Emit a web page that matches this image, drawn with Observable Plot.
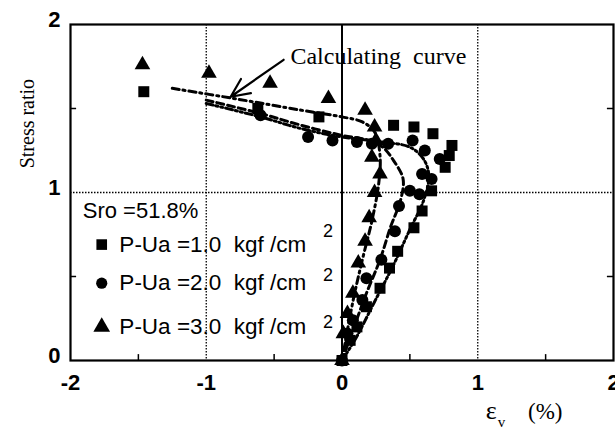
<!DOCTYPE html>
<html><head><meta charset="utf-8">
<script src="https://cdn.jsdelivr.net/npm/d3@7"></script>
<script src="https://cdn.jsdelivr.net/npm/@observablehq/plot@0.6"></script>
<style>
body{margin:0;background:#fff}
svg text{white-space:pre}
</style>
</head><body><div id="chart"></div>
<script>
// ---- axes ----
const xTicks = [-2, -1, 0, 1, 2];
const yTicks = [0, 1, 2];
const xMinor = [-1.5, -0.5, 0.5, 1.5];
const yMinor = [0.5, 1.5];
const xGrid = [-1, 1];
const yGrid = [1];
const xLabel = "(%)";
const yLabel = "Stress ratio";

// ---- series (P-Ua = 1.0, 2.0, 3.0 kgf/cm2) ----
const seriesNames = ["1.0", "2.0", "3.0"];
const seriesSymbols = ["square", "circle", "triangle"];

const sqX = [0, 0.06, 0.11, 0.18, 0.28, 0.35, 0.41, 0.53, 0.59, 0.66, 0.76, 0.79, 0.81, 0.67, 0.53, 0.38, -0.17, -0.62, -1.46];
const sqY = [0, 0.12, 0.20, 0.32, 0.43, 0.55, 0.65, 0.79, 0.89, 1.01, 1.15, 1.22, 1.28, 1.35, 1.39, 1.40, 1.45, 1.50, 1.60];

const ciX = [0, 0.04, 0.08, 0.15, 0.18, 0.29, 0.39, 0.42, 0.50, 0.57, 0.59, 0.66, 0.72, 0.61, 0.52, 0.34, 0.22, 0.11, -0.07, -0.25, -0.60];
const ciY = [0, 0.16, 0.24, 0.36, 0.49, 0.60, 0.77, 0.92, 1.01, 0.99, 1.11, 1.08, 1.20, 1.25, 1.31, 1.29, 1.29, 1.30, 1.31, 1.33, 1.46];

const trX = [0, 0.01, 0.04, 0.08, 0.12, 0.17, 0.20, 0.24, 0.28, 0.22, 0.25, 0.24, 0.17, -0.10, -0.53, -0.98, -1.47];
const trY = [0, 0.16, 0.28, 0.40, 0.58, 0.71, 0.85, 1.00, 1.11, 1.21, 1.31, 1.39, 1.49, 1.56, 1.65, 1.71, 1.76];

// ---- calculating curves ----
const calc1X = [-1.0, -0.6, -0.3, 0.0, 0.3, 0.5, 0.6, 0.64, 0.60, 0.50, 0.38, 0.24, 0.10, 0];
const calc1Y = [1.53, 1.45, 1.38, 1.33, 1.30, 1.27, 1.20, 1.10, 0.95, 0.78, 0.57, 0.35, 0.13, 0];
const calc2X = [-1.0, -0.6, -0.3, 0.0, 0.2, 0.3, 0.38, 0.45, 0.43, 0.36, 0.28, 0.18, 0.08, 0];
const calc2Y = [1.55, 1.47, 1.40, 1.34, 1.31, 1.27, 1.19, 1.08, 0.95, 0.80, 0.60, 0.40, 0.18, 0];
const calc3X = [-1.25, -0.8, -0.3, 0.0, 0.15, 0.24, 0.28, 0.27, 0.22, 0.15, 0.08, 0];
const calc3Y = [1.62, 1.56, 1.49, 1.45, 1.42, 1.36, 1.22, 1.05, 0.83, 0.60, 0.35, 0];
const calcDash = ["7,3,2,3,2,3", "7,4", "7,4,2,4"];

// ---- annotation / legend ----
const noteText = "Calculating  curve";
const noteAt = [-0.38, 1.81];
const arrowFrom = [-0.43, 1.79];
const arrowTo = [-0.82, 1.57];
const sroText = "Sro =51.8%";
const sroAt = [-1.91, 0.89];
const legendLabels = ["P-Ua =1.0  kgf /cm", "P-Ua =2.0  kgf /cm", "P-Ua =3.0  kgf /cm"];
const legendMarkX = -1.77;
const legendTextX = -1.64;
const legendY = [0.69, 0.46, 0.20];
const supX = -0.14;
const supY = [0.77, 0.51, 0.23];

// build tables
const mk = (xs, ys, s) => xs.map((x, i) => ({x, y: ys[i], s}));
const seriesData = [mk(sqX, sqY, seriesNames[0]), mk(ciX, ciY, seriesNames[1]), mk(trX, trY, seriesNames[2])];
const curves = [mk(calc1X, calc1Y, 0), mk(calc2X, calc2Y, 1), mk(calc3X, calc3Y, 2)];
const legend = seriesNames.map((s, i) => ({s, label: legendLabels[i], y: legendY[i], sy: supY[i]}));

const dotR = [6.2, 6, 5.8];
const legendR = [6, 5.6, 6.2];
const TICK = 0.035, TICKX = 0.045;
const serif = "'Liberation Serif', 'DejaVu Serif', serif";
const sans = "'Liberation Sans', Arial, sans-serif";

const marks = [
  Plot.ruleX(xGrid, {strokeDasharray: "1.5,1.5", strokeWidth: 1.3}),
  Plot.ruleY(yGrid, {strokeDasharray: "1.5,1.5", strokeWidth: 1.3}),
  Plot.ruleX([0], {strokeWidth: 2}),
  Plot.ruleX(xMinor, {x: d => d, y1: 0, y2: TICK, strokeWidth: 1.5}),
  Plot.ruleY(yMinor, {y: d => d, x1: -2, x2: -2 + TICKX, strokeWidth: 1.5}),
  Plot.ruleY(yMinor, {y: d => d, x1: 2, x2: 2 - TICKX, strokeWidth: 1.5}),
  Plot.frame({strokeWidth: 2.2}),
  Plot.axisX({ticks: xTicks, tickSize: 0, tickPadding: 14, tickFormat: d => String(d), fontSize: 22, fontWeight: "bold", fontFamily: sans, label: null}),
  Plot.axisY({ticks: yTicks, tickSize: 0, tickPadding: 10, dy: -5, tickFormat: d => String(d), fontSize: 22, fontWeight: "bold", fontFamily: sans, label: null}),
  ...curves.map((c, i) => Plot.line(c, {x: "x", y: "y", stroke: "black", strokeWidth: 3, strokeDasharray: calcDash[i], curve: "catmull-rom"})),
  ...seriesData.map((d, i) => Plot.dot(d, {x: "x", y: "y", symbol: "s", fill: "black", r: dotR[i]})),
  Plot.arrow([0], {x1: () => arrowFrom[0], y1: () => arrowFrom[1], x2: () => arrowTo[0], y2: () => arrowTo[1], strokeWidth: 2.2, headLength: 14, headAngle: 50}),
  Plot.text([noteText], {x: () => noteAt[0], y: () => noteAt[1], text: d => d, textAnchor: "start", fontSize: 24, fontFamily: serif}),
  Plot.text([sroText], {x: () => sroAt[0], y: () => sroAt[1], text: d => d, textAnchor: "start", fontSize: 22, fontFamily: sans}),
  ...legend.map((l, i) => Plot.dot([l], {x: () => legendMarkX, y: "y", symbol: "s", fill: "black", r: legendR[i]})),
  Plot.text(legend, {x: () => legendTextX, y: "y", text: "label", textAnchor: "start", fontSize: 22.5, fontFamily: sans}),
  Plot.text(legend, {x: () => supX, y: "sy", text: () => "2", textAnchor: "start", fontSize: 18, fontFamily: sans}),
  Plot.text([yLabel], {frameAnchor: "left", y: () => 1.41, dx: -43, rotate: -90, textAnchor: "middle", text: d => d, fontSize: 20, fontFamily: serif}),
  Plot.text(["ε"], {frameAnchor: "bottom", x: () => 1.1, dy: 58, text: d => d, fontSize: 26, fontFamily: serif}),
  Plot.text(["v"], {frameAnchor: "bottom", x: () => 1.175, dy: 66, text: d => d, fontSize: 15, fontFamily: serif}),
  Plot.text([xLabel], {frameAnchor: "bottom", x: () => 1.37, dy: 58, text: d => d, textAnchor: "start", fontSize: 23, fontFamily: serif})
];

const chart = Plot.plot({
  width: 615, height: 440,
  marginLeft: 70, marginRight: 2, marginTop: 24, marginBottom: 80,
  x: {domain: [-2, 2], axis: null},
  y: {domain: [0, 2], axis: null},
  symbol: {domain: seriesNames, range: seriesSymbols},
  style: {background: "white", color: "black", overflow: "visible"},
  marks
});
document.getElementById("chart").appendChild(chart);
</script>
</body></html>
